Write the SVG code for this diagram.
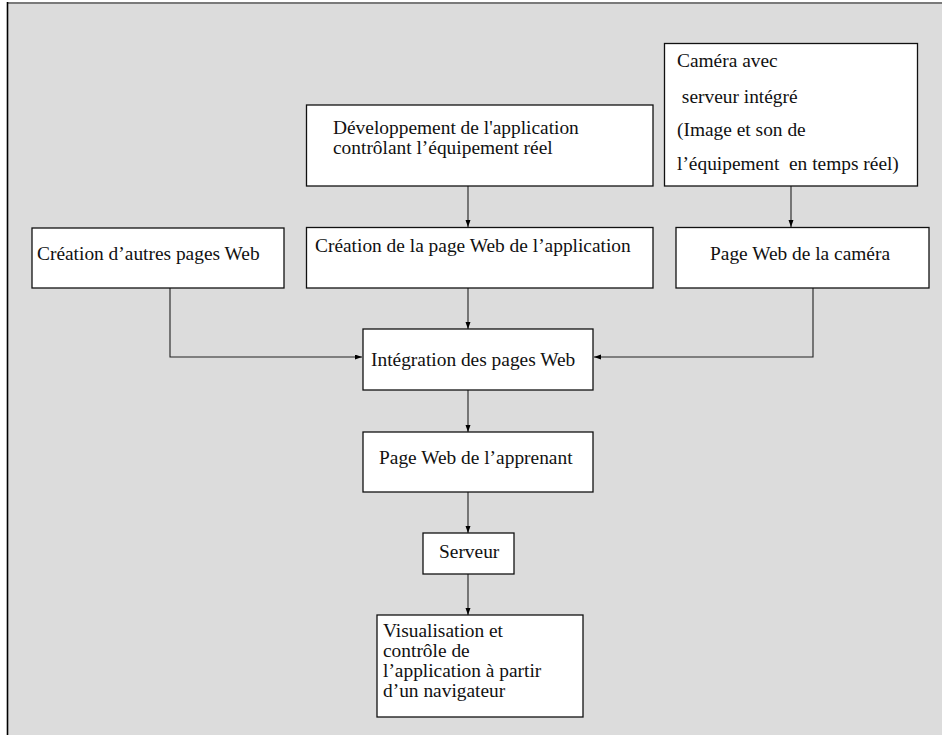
<svg xmlns="http://www.w3.org/2000/svg" width="942" height="735" viewBox="0 0 942 735">
<defs>
<style>
.box{fill:#fff;stroke:#111;stroke-width:1.3}
.t{font-family:"Liberation Serif","Times New Roman",serif;font-size:19.4px;fill:#111}
.pre{white-space:pre}
.c{fill:none;stroke:#222;stroke-width:1.1}
</style>
<marker id="ah" markerUnits="userSpaceOnUse" markerWidth="8" markerHeight="6" refX="7" refY="2.5" orient="auto">
<path d="M0,0 L7,2.5 L0,5 z" fill="#000"/>
</marker>
</defs>
<rect x="0" y="0" width="942" height="735" fill="#fff"/>
<rect x="8" y="3" width="934" height="732" fill="#dcdcdc"/>
<line x1="8" y1="3" x2="942" y2="3" stroke="#7a7a7a" stroke-width="2"/>
<line x1="7.5" y1="2" x2="7.5" y2="735" stroke="#000" stroke-width="1.6"/>

<g id="connectors">
<line class="c" x1="468" y1="186" x2="468" y2="227" marker-end="url(#ah)"/>
<line class="c" x1="791" y1="186" x2="791" y2="227" marker-end="url(#ah)"/>
<polyline class="c" points="170,288 170,357 362,357" marker-end="url(#ah)"/>
<line class="c" x1="468" y1="288" x2="468" y2="329" marker-end="url(#ah)"/>
<polyline class="c" points="813,288 813,357 594,357" marker-end="url(#ah)"/>
<line class="c" x1="468" y1="390" x2="468" y2="432" marker-end="url(#ah)"/>
<line class="c" x1="468" y1="492" x2="468" y2="533" marker-end="url(#ah)"/>
<line class="c" x1="468" y1="574" x2="468" y2="615" marker-end="url(#ah)"/>
</g>

<g id="dev">
<rect class="box" x="306.5" y="105" width="346.5" height="81"/>
<text class="t" x="333" y="134">Développement de l'application</text>
<text class="t" x="333" y="154">contrôlant l’équipement réel</text>
</g>

<g id="camera">
<rect class="box" x="664.5" y="43.5" width="253" height="142.5"/>
<text class="t" x="677" y="67">Caméra avec</text>
<text class="t pre" x="677" y="103" xml:space="preserve"> serveur intégré</text>
<text class="t" x="677" y="136">(Image et son de</text>
<text class="t pre" x="677" y="170" xml:space="preserve">l’équipement  en temps réel)</text>
</g>

<g id="autres">
<rect class="box" x="32" y="228" width="252" height="60"/>
<text class="t" x="37" y="260">Création d’autres pages Web</text>
</g>

<g id="pageapp">
<rect class="box" x="306.5" y="227.5" width="346.5" height="60.5"/>
<text class="t" x="315" y="252">Création de la page Web de l’application</text>
</g>

<g id="pagecam">
<rect class="box" x="676" y="227.5" width="253" height="60.5"/>
<text class="t" x="710" y="260">Page Web de la caméra</text>
</g>

<g id="integration">
<rect class="box" x="363" y="329" width="230" height="61"/>
<text class="t" x="371" y="366">Intégration des pages Web</text>
</g>

<g id="apprenant">
<rect class="box" x="363" y="432" width="230" height="60"/>
<text class="t" x="379" y="464">Page Web de l’apprenant</text>
</g>

<g id="serveur">
<rect class="box" x="423" y="533" width="91" height="41"/>
<text class="t" x="439" y="558">Serveur</text>
</g>

<g id="visualisation">
<rect class="box" x="377" y="615" width="206" height="102"/>
<text class="t" x="383" y="637">Visualisation et</text>
<text class="t" x="383" y="657">contrôle de</text>
<text class="t" x="383" y="677">l’application à partir</text>
<text class="t" x="383" y="697">d’un navigateur</text>
</g>
</svg>
